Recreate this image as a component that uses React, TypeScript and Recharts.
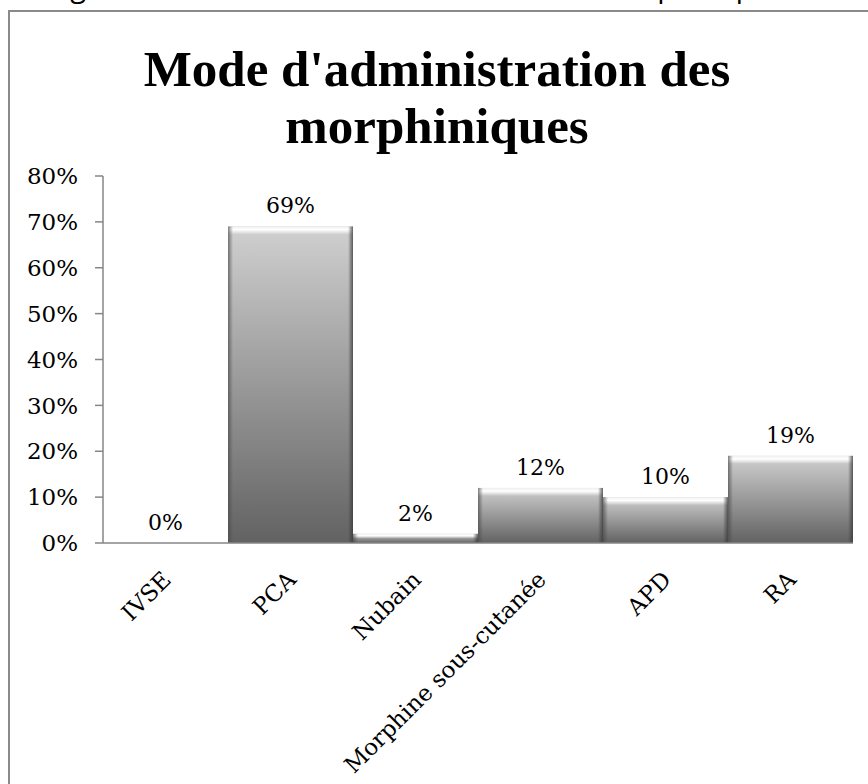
import React from 'react';
import { BarChart, Bar, XAxis, YAxis, LabelList } from 'recharts';

const categories = ['IVSE', 'PCA', 'Nubain', 'Morphine sous-cutanée', 'APD', 'RA'];
const percents = [0, 69, 2, 12, 10, 19];
const yTicks = [0, 10, 20, 30, 40, 50, 60, 70, 80];

const chartData = categories.map((name, i) => ({ name, value: percents[i] }));

const SERIF = '"DejaVu Serif", serif';
const AXIS = '#868686';

// barre "biseautée" façon Excel
const BevelBar = (props: any) => {
  const { x, y, width, height } = props;
  if (!height || height <= 0) return null;
  const b = Math.min(8, height / 2);
  return (
    <g>
      <rect x={x} y={y} width={width} height={height} fill="url(#barFill)" />
      <rect x={x} y={y} width={width} height={b} fill="url(#topBevel)" />
      <rect x={x} y={y} width={5} height={height} fill="url(#leftEdge)" />
      <rect x={x + width - 5} y={y} width={5} height={height} fill="url(#rightEdge)" />
    </g>
  );
};

const XTick = (props: any) => {
  const { x, y, payload } = props;
  return (
    <text
      transform={`translate(${x + 7},${y + 30}) rotate(-45)`}
      textAnchor="end"
      fontFamily={SERIF}
      fontSize={23}
      fill="#000"
    >
      {payload.value}
    </text>
  );
};

const App: React.FC = () => {
  return (
    <div style={{ position: 'absolute', left: 0, top: 0, width: 868, height: 784, overflow: 'hidden', background: '#fff' }}>
      {/* ligne de légende coupée en haut */}
      <div
        style={{
          position: 'absolute', left: 0, top: -31, whiteSpace: 'nowrap',
          fontFamily: '"Open Sans", sans-serif', fontSize: 29, lineHeight: '34px', color: '#000',
        }}
      >
        Histogramme 7 : Mode d'administration des morphiniques
      </div>
      {/* cadre */}
      <div
        style={{
          position: 'absolute', left: 8, top: 10, width: 900, height: 800,
          borderLeft: '2px solid #8a8a8a', borderTop: '2px solid #8a8a8a',
        }}
      />
      {/* titre */}
      <div
        style={{
          position: 'absolute', left: 0, top: 41, width: 874, textAlign: 'center',
          fontFamily: '"Liberation Serif", serif', fontWeight: 'bold', fontSize: 51, lineHeight: '57px',
        }}
      >
        Mode d'administration des<br />morphiniques
      </div>
      <div style={{ position: 'absolute', left: 0, top: 0 }}>
        <BarChart
          width={868}
          height={784}
          data={chartData}
          margin={{ top: 176, right: 15, left: 0, bottom: 0 }}
          barCategoryGap={0}
        >
          <defs>
            <linearGradient id="barFill" x1="0" y1="0" x2="0" y2="1">
              <stop offset="0%" stopColor="#d0d0d0" />
              <stop offset="100%" stopColor="#626262" />
            </linearGradient>
            <linearGradient id="topBevel" x1="0" y1="0" x2="0" y2="1">
              <stop offset="0%" stopColor="#eeeeee" />
              <stop offset="40%" stopColor="#ffffff" />
              <stop offset="100%" stopColor="#ffffff" stopOpacity={0} />
            </linearGradient>
            <linearGradient id="leftEdge" x1="0" y1="0" x2="1" y2="0">
              <stop offset="0%" stopColor="#4a4a4a" stopOpacity={0.7} />
              <stop offset="100%" stopColor="#4a4a4a" stopOpacity={0} />
            </linearGradient>
            <linearGradient id="rightEdge" x1="0" y1="0" x2="1" y2="0">
              <stop offset="0%" stopColor="#3a3a3a" stopOpacity={0} />
              <stop offset="100%" stopColor="#3a3a3a" stopOpacity={0.8} />
            </linearGradient>
          </defs>
          <XAxis
            dataKey="name"
            height={241}
            interval={0}
            tickLine={false}
            axisLine={{ stroke: AXIS, strokeWidth: 1.5 }}
            tick={<XTick />}
          />
          <YAxis
            width={103}
            domain={[0, 80]}
            ticks={yTicks}
            interval={0}
            tickSize={8}
            tickMargin={17}
            tickFormatter={(v: number) => `${v}%`}
            axisLine={{ stroke: AXIS, strokeWidth: 1.5 }}
            tickLine={{ stroke: AXIS, strokeWidth: 1.5 }}
            tick={{ fill: '#000', fontFamily: SERIF, fontSize: 23 }}
          />
          <Bar dataKey="value" shape={<BevelBar />} isAnimationActive={false}>
            <LabelList
              dataKey="value"
              position="top"
              offset={13}
              formatter={(v: any) => `${v}%`}
              style={{ fill: '#000', fontFamily: SERIF, fontSize: 22 }}
            />
          </Bar>
        </BarChart>
      </div>
    </div>
  );
};

export default App;
